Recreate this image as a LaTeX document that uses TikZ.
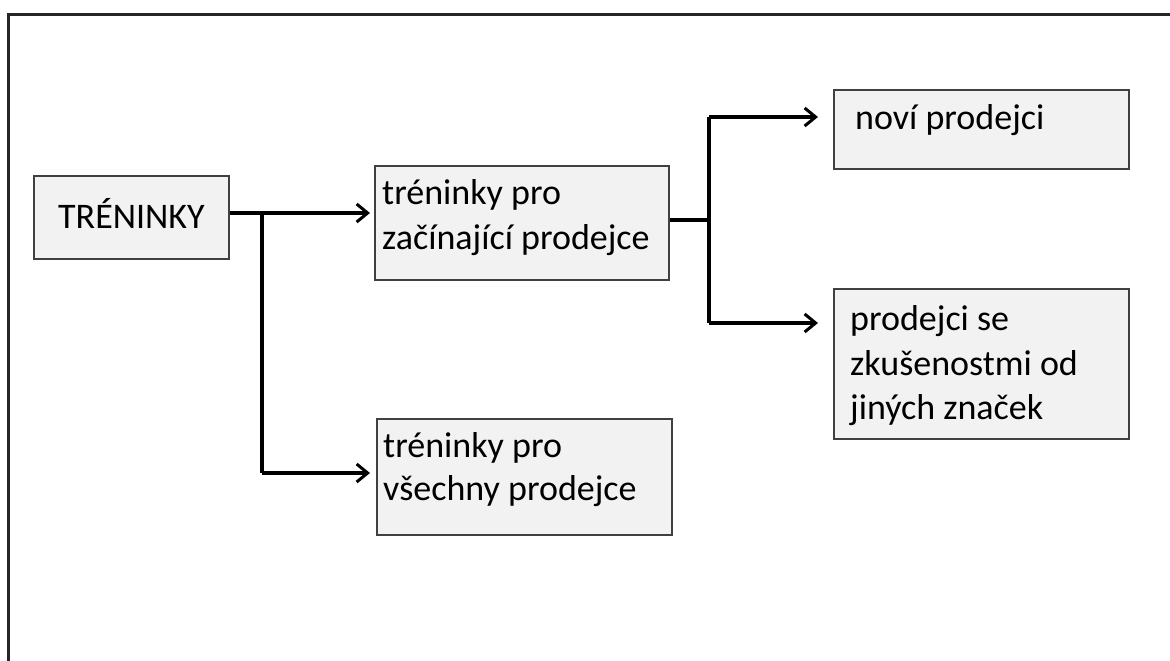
\documentclass[tikz,border=0pt]{standalone}
\usepackage{fontspec}
\setmainfont{Carlito}
\usetikzlibrary{arrows.meta}
\definecolor{boxfill}{HTML}{F2F2F2}
\definecolor{boxline}{HTML}{404040}
\tikzset{
  box/.style={draw=boxline, fill=boxfill, line width=2pt, inner sep=0pt, anchor=north west},
  txt/.style={anchor=base west, inner sep=0pt, font=\fontsize{36}{45}\selectfont},
  conn/.style={line width=3.2pt, black, line join=miter},
  arr/.style={conn, -{Straight Barb[length=11pt, width=18pt, line width=3pt]}},
}
\begin{document}
\begin{tikzpicture}[x=1pt, y=-1pt]
  \useasboundingbox (0,0) rectangle (1170,661);
  % outer frame, running off the right and bottom edges
  \draw[line width=2.4pt, black!85] (8.5,661) -- (8.5,14.5) -- (1170,14.5);

  % boxes
  \node[box, minimum width=195pt, minimum height=83pt] (root) at (33,175) {};
  \node[box, minimum width=294pt, minimum height=114pt] (zac) at (374,165) {};
  \node[box, minimum width=295pt, minimum height=116pt] (vse) at (376,418) {};
  \node[box, minimum width=295pt, minimum height=79pt] (novi) at (833,89) {};
  \node[box, minimum width=295pt, minimum height=150pt] (zkus) at (833,288) {};

  % labels
  \node[txt] (troot) at (58,228) {TRÉNINKY};
  \node[txt] (tzac1) at (382,204) {tréninky pro};
  \node[txt] (tzac2) at (382,249) {začínající prodejce};
  \node[txt] (tvse1) at (383,457) {tréninky pro};
  \node[txt] (tvse2) at (383,500) {všechny prodejce};
  \node[txt] (tnovi) at (855,129) {noví prodejci};
  \node[txt] (tzk1) at (850,330) {prodejci se};
  \node[txt] (tzk2) at (850,375) {zkušenostmi od};
  \node[txt] (tzk3) at (850,419) {jiných značek};

  % branch points
  \coordinate (j1) at (262,213);
  \coordinate (j2) at (709,220);

  % connectors
  \draw[arr] (root.east |- j1) -- ([xshift=-4pt]zac.west |- j1);
  \draw[conn] (j1) -- (262,473);
  \draw[arr] (262,473) -- ([xshift=-6pt]vse.west |- 0,473);
  \draw[conn] (zac.east |- j2) -- (j2);
  \draw[arr] (709,117) -- ([xshift=-15pt]novi.west |- 0,117);
  \draw[arr] (709,323) -- ([xshift=-15pt]zkus.west |- 0,323);
  \draw[conn] (709,117) -- (709,323);
\end{tikzpicture}
\end{document}
